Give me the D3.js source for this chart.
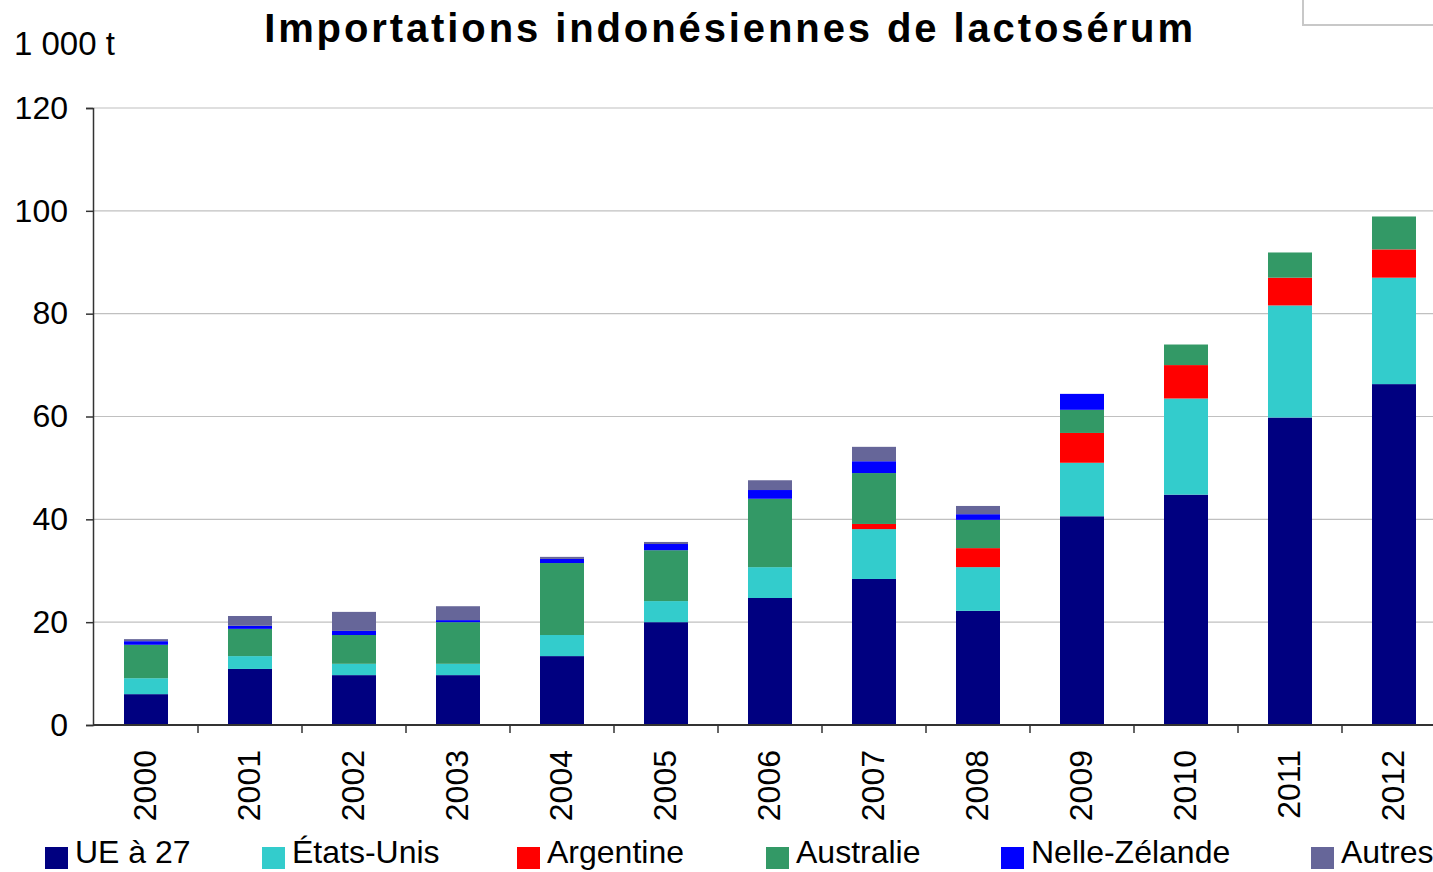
<!DOCTYPE html>
<html>
<head>
<meta charset="utf-8">
<script src="https://cdn.jsdelivr.net/npm/d3@7"></script>
<style>
  body { margin: 0; background: #fff; }
  svg { display: block; font-family: "Liberation Sans", Arial, sans-serif; }
</style>
</head>
<body>
<div id="chart"></div>
<script>
// data, in 1 000 t
let years = ["2000","2001","2002","2003","2004","2005","2006","2007","2008","2009","2010","2011","2012"];
let seriesNames = ["UE à 27", "États-Unis", "Argentine", "Australie", "Nelle-Zélande", "Autres"];
let seriesColors = ["#000080", "#33cccc", "#ff0000", "#339966", "#0000ff", "#666699"];
let ueValues        = [6.0, 10.9, 9.7, 9.7, 13.4, 20.0, 24.7, 28.4, 22.2, 40.6, 44.8, 59.8, 66.3];
let usValues        = [3.1, 2.5, 2.2, 2.2, 4.1, 4.1, 6.0, 9.7, 8.5, 10.4, 18.7, 21.8, 20.7];
let argValues       = [0, 0, 0, 0, 0, 0, 0, 1.0, 3.7, 5.8, 6.5, 5.4, 5.5];
let ausValues       = [6.5, 5.3, 5.6, 8.1, 14.0, 9.9, 13.3, 9.9, 5.5, 4.5, 4.0, 4.9, 6.4];
let nzValues        = [0.7, 0.6, 0.8, 0.4, 0.8, 1.2, 1.7, 2.3, 1.1, 3.1, 0, 0, 0];
let autresValues    = [0.4, 1.9, 3.7, 2.7, 0.4, 0.4, 1.9, 2.8, 1.6, 0, 0, 0, 0];
let yTicks = [0, 20, 40, 60, 80, 100, 120];

let allValues = [ueValues, usValues, argValues, ausValues, nzValues, autresValues];
let rows = years.map((y, i) => {
    let r = {year: y};
    seriesNames.forEach((s, j) => r[s] = allValues[j][i]);
    return r;
});

let width = 1433, height = 872;
let svg = d3.select("#chart").append("svg")
    .attr("width", width)
    .attr("height", height);

let x = d3.scaleBand().domain(years).range([94, 94 + 13 * 104]);
let y = d3.scaleLinear().domain([0, 120]).range([725, 108]);
let barWidth = 44;

// leftover legend box frame in the top right corner
svg.append("rect")
    .attr("x", 1303).attr("y", -4)
    .attr("width", 140).attr("height", 29)
    .attr("fill", "none")
    .attr("stroke", "#c8c8c8")
    .attr("stroke-width", 2);

// gridlines
svg.append("g")
    .selectAll("line")
    .data(yTicks.filter(d => d > 0))
    .enter()
    .append("line")
    .attr("x1", 94).attr("x2", width)
    .attr("y1", d => y(d)).attr("y2", d => y(d))
    .attr("stroke", "#c0c0c0")
    .attr("stroke-width", 1.2);

// stacked bars
let stack = d3.stack().keys(seriesNames)(rows);
svg.append("g")
    .selectAll("g")
    .data(stack)
    .enter()
    .append("g")
    .attr("fill", (d, i) => seriesColors[i])
    .selectAll("rect")
    .data(d => d)
    .enter()
    .append("rect")
    .attr("x", d => x(d.data.year) + x.bandwidth() / 2 - barWidth / 2)
    .attr("width", barWidth)
    .attr("y", d => y(d[1]))
    .attr("height", d => y(d[0]) - y(d[1]));

// y axis
let yAxis = svg.append("g")
    .attr("transform", "translate(93,0)")
    .call(d3.axisLeft(y).tickValues(yTicks).tickSize(7).tickPadding(18));
yAxis.select(".domain").attr("stroke", "#333").attr("stroke-width", 1.5);
yAxis.selectAll(".tick line").attr("stroke", "#333").attr("stroke-width", 1.5);
yAxis.selectAll(".tick text")
    .attr("font-size", 32)
    .attr("font-family", "Liberation Sans, Arial, sans-serif")
    .attr("fill", "#000");

// x axis
let xAxisG = svg.append("g").attr("transform", "translate(0,725)");
xAxisG.append("line")
    .attr("x1", 93).attr("x2", width)
    .attr("stroke", "#333").attr("stroke-width", 2);
xAxisG.selectAll(".xtick")
    .data(years.slice(1))
    .enter()
    .append("line")
    .attr("x1", d => x(d)).attr("x2", d => x(d))
    .attr("y1", 0).attr("y2", 8)
    .attr("stroke", "#333").attr("stroke-width", 1.5);
xAxisG.selectAll(".xlabel")
    .data(years)
    .enter()
    .append("text")
    .attr("transform", d => "translate(" + (x(d) + x.bandwidth() / 2 + 10) + ",25) rotate(-90)")
    .attr("text-anchor", "end")
    .attr("font-size", 32)
    .text(d => d);

// unit label
svg.append("text")
    .attr("x", 14).attr("y", 55)
    .attr("font-size", 33)
    .text("1 000 t");

// title
svg.append("text")
    .attr("x", 730).attr("y", 42)
    .attr("text-anchor", "middle")
    .attr("font-size", 40)
    .attr("font-weight", "bold")
    .attr("letter-spacing", 2.9)
    .text("Importations indonésiennes de lactosérum");

// legend
let legendX = [45, 262, 517, 766, 1001, 1311];
let legend = svg.append("g")
    .selectAll("g")
    .data(seriesNames)
    .enter()
    .append("g")
    .attr("transform", (d, i) => "translate(" + legendX[i] + ",847)");
legend.append("rect")
    .attr("width", 23).attr("height", 22)
    .attr("fill", (d, i) => seriesColors[i]);
legend.append("text")
    .attr("x", 30).attr("y", 16)
    .attr("font-size", 32)
    .attr("font-family", "Liberation Sans Narrow, Liberation Sans, Arial, sans-serif")
    .text(d => d);
</script>
</body>
</html>
